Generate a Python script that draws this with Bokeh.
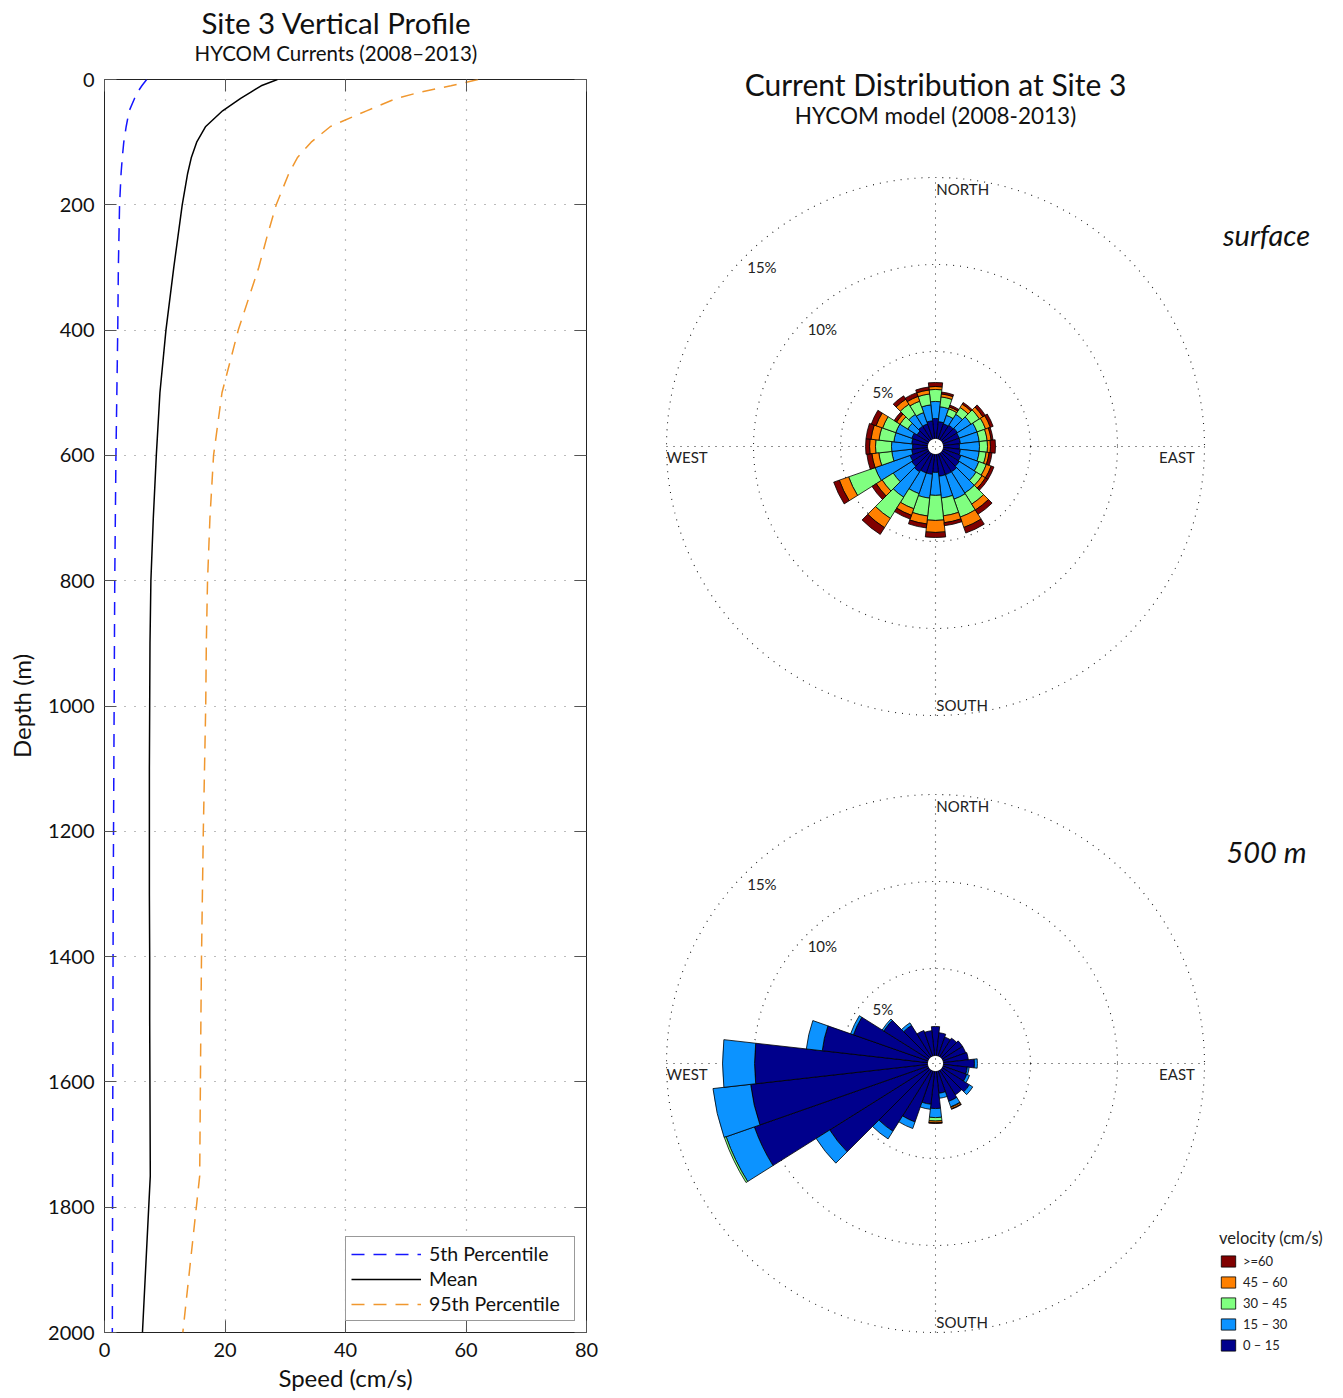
import numpy as np
from bokeh.plotting import figure
from bokeh.models import (Range1d, FixedTicker, LinearAxis, Legend, LegendItem,
                          Label, Title, ColumnDataSource)
from bokeh.layouts import row, column
from bokeh.embed import file_html
from bokeh.resources import INLINE

FONT = "Lato"

# ---------------- vertical profile data (HYCOM levels) ----------------
depth_m = [0, 10, 20, 30, 50, 75, 100, 125, 150, 200, 250, 300, 400, 500,
           600, 700, 800, 900, 1000, 1100, 1200, 1300, 1400, 1500, 1750, 2000]
speed_p05 = [7.0, 6.2, 5.5, 5.0, 4.1, 3.6, 3.2, 2.95, 2.75, 2.5, 2.4, 2.3, 2.2, 2.05,
             1.9, 1.8, 1.7, 1.65, 1.6, 1.55, 1.5, 1.45, 1.42, 1.4, 1.35, 1.3]
speed_mean = [28.7, 26.0, 24.3, 22.6, 19.6, 16.8, 15.3, 14.4, 13.8, 12.9, 12.2, 11.5, 10.2, 9.2,
              8.6, 8.1, 7.7, 7.55, 7.5, 7.45, 7.45, 7.45, 7.5, 7.5, 7.6, 6.3]
speed_p95 = [62.0, 57.5, 52.5, 48.5, 43.5, 37.5, 34.3, 32.0, 30.6, 28.5, 27.0, 25.6, 22.2, 19.5,
             18.1, 17.5, 17.1, 16.9, 16.8, 16.6, 16.4, 16.25, 16.1, 16.0, 15.8, 13.0]
speed_ticks = [0, 20, 40, 60, 80]
depth_ticks = list(range(0, 2001, 200))

# ---------------- current rose data (% of time per direction and speed class) ----------------
n_dir = 28
speed_classes = ["0 – 15", "15 – 30", "30 – 45", "45 – 60", ">=60"]
class_colors = ["#00008C", "#0C93FF", "#80FF80", "#FF8000", "#800000"]
ring_pcts = [5, 10, 15]

surf_0_15 = [1.15, 0.98, 0.92, 0.98, 1.03, 0.98, 0.98, 0.92, 0.98, 1.09, 1.15, 1.26, 1.26, 1.26,
             1.03, 1.15, 1.15, 1.26, 1.15, 1.09, 0.92, 0.86, 0.92, 0.98, 0.80, 0.92, 0.92, 1.03]
surf_15_30 = [0.98, 0.86, 0.52, 0.75, 0.92, 1.09, 1.09, 1.15, 1.09, 1.09, 1.15, 1.44, 1.49, 1.26,
              1.32, 1.38, 1.26, 1.72, 1.26, 2.13, 1.15, 1.21, 1.03, 0.98, 0.63, 0.80, 0.69, 0.92]
surf_30_45 = [0.69, 0.57, 0.40, 0.46, 0.57, 0.52, 0.46, 0.46, 0.40, 0.46, 0.40, 0.75, 1.09, 1.03,
              1.44, 1.03, 0.92, 1.44, 0.75, 1.61, 0.75, 0.92, 0.86, 0.80, 0.52, 0.69, 0.69, 0.63]
surf_45_60 = [0.17, 0.17, 0.11, 0.23, 0.23, 0.29, 0.23, 0.17, 0.17, 0.29, 0.23, 0.40, 0.63, 0.40,
              0.69, 0.46, 0.40, 0.63, 0.40, 0.57, 0.40, 0.34, 0.46, 0.40, 0.23, 0.34, 0.29, 0.23]
surf_60 = [0.23, 0.11, 0.11, 0.11, 0.17, 0.17, 0.11, 0.29, 0.17, 0.17, 0.17, 0.29, 0.34, 0.17,
           0.29, 0.23, 0.23, 0.46, 0.29, 0.34, 0.29, 0.23, 0.29, 0.29, 0.17, 0.23, 0.23, 0.17]

deep_0_15 = [1.67, 1.32, 1.15, 1.26, 1.38, 1.38, 1.44, 1.78, 1.38, 1.44, 1.84, 1.67, 1.84, 1.26,
             2.13, 1.90, 3.10, 4.14, 6.72, 10.57, 10.23, 9.94, 6.09, 4.54, 3.05, 2.13, 1.55, 1.44]
deep_15_30 = [0, 0, 0, 0, 0, 0, 0, 0.17, 0.11, 0.17, 0.23, 0, 0.34, 0.29,
              0.52, 0.29, 0.40, 0.52, 0.92, 1.72, 2.18, 1.84, 0.92, 0.17, 0.11, 0.17, 0, 0]
deep_30_45 = [0, 0, 0, 0, 0, 0, 0, 0, 0, 0, 0, 0, 0.03, 0,
              0.20, 0, 0, 0, 0, 0.11, 0, 0, 0, 0, 0, 0, 0, 0]
deep_45_60 = [0, 0, 0, 0, 0, 0, 0, 0, 0, 0, 0, 0, 0.09, 0,
              0.10, 0, 0, 0, 0, 0, 0, 0, 0, 0, 0, 0, 0, 0]
deep_60 = [0, 0, 0, 0, 0, 0, 0, 0, 0, 0, 0, 0, 0.03, 0,
           0.04, 0, 0, 0, 0, 0, 0, 0, 0, 0, 0, 0, 0, 0]

surface_rose = [surf_0_15, surf_15_30, surf_30_45, surf_45_60, surf_60]
deep_rose = [deep_0_15, deep_15_30, deep_30_45, deep_45_60, deep_60]

TOP, BOTTOM = 79, 66

# =====================================================================
# Left: vertical profile
# =====================================================================
LW, LH = 600, 1398
p = figure(width=LW, height=LH, output_backend="svg", toolbar_location=None,
           x_range=Range1d(0, 80), y_range=Range1d(2000, 0),
           min_border_left=104, min_border_right=14, min_border_top=TOP, min_border_bottom=BOTTOM,
           background_fill_color="white", border_fill_color="white")
bottom_ax = p.xaxis[0]
left_ax = p.yaxis[0]

# mirrored inward ticks on top and right (labels invisible)
top_ax = LinearAxis(ticker=FixedTicker(ticks=speed_ticks), major_tick_in=12, major_tick_out=0,
                    major_label_text_font_size="1px", major_label_text_color=None,
                    major_label_standoff=0, minor_tick_line_color=None, axis_line_color=None,
                    major_tick_line_color="#555")
right_ax = LinearAxis(ticker=FixedTicker(ticks=depth_ticks), major_tick_in=12, major_tick_out=0,
                      major_label_text_font_size="1px", major_label_text_color=None,
                      major_label_standoff=0, minor_tick_line_color=None, axis_line_color=None,
                      major_tick_line_color="#555")
p.add_layout(top_ax, "above")
p.add_layout(right_ax, "right")

p.add_layout(Title(text="HYCOM Currents (2008–2013)", align="left", text_font=FONT,
                   text_font_size="20.5px", text_font_style="normal", text_color="#111",
                   standoff=29, offset=90), "above")
p.add_layout(Title(text="Site 3 Vertical Profile", align="left", text_font=FONT,
                   text_font_size="29.5px", text_font_style="normal", text_color="#111",
                   standoff=-31, offset=97), "above")

p.outline_line_color = "#222"
p.outline_line_width = 1

for ax in (bottom_ax, left_ax):
    ax.major_tick_in = 12
    ax.major_tick_out = 0
    ax.minor_tick_line_color = None
    ax.major_tick_line_color = "#555"
    ax.axis_line_color = None
    ax.major_label_text_font = FONT
    ax.major_label_text_font_size = "20px"
    ax.major_label_text_color = "#111"
    ax.axis_label_text_font = FONT
    ax.axis_label_text_font_size = "24px"
    ax.axis_label_text_font_style = "normal"
    ax.axis_label_text_color = "#111"
    ax.major_label_standoff = 10

bottom_ax.ticker = FixedTicker(ticks=speed_ticks)
left_ax.ticker = FixedTicker(ticks=depth_ticks)
bottom_ax.axis_label = "Speed (cm/s)"
left_ax.axis_label = "Depth (m)"
bottom_ax.axis_label_standoff = 3
left_ax.axis_label_standoff = 9

p.xgrid.ticker = FixedTicker(ticks=speed_ticks)
p.ygrid.ticker = FixedTicker(ticks=depth_ticks)
p.grid.grid_line_color = "#777"
p.grid.grid_line_dash = "1 9"
p.grid.grid_line_width = 1.2

p.line(speed_p05, depth_m, line_color="#1515FF", line_width=1.5, line_dash="13 9",
       legend_label="5th Percentile")
p.line(speed_mean, depth_m, line_color="black", line_width=1.5, legend_label="Mean")
p.line(speed_p95, depth_m, line_color="#F0972E", line_width=1.5, line_dash="13 9",
       legend_label="95th Percentile")

lg = p.legend[0]
lg.location = "bottom_right"
lg.margin = 11
lg.padding = 5
lg.spacing = 2
lg.glyph_width = 70
lg.glyph_height = 20
lg.label_height = 20
lg.label_width = 140
lg.label_standoff = 8
lg.label_text_font = FONT
lg.label_text_font_size = "19.5px"
lg.label_text_color = "#111"
lg.border_line_color = "#333"
lg.border_line_width = 1
lg.background_fill_alpha = 1

# =====================================================================
# Right: current roses (1 data unit = 1 % of time)
# =====================================================================
RW, RH = 743, 1398
PX = 17.4                     # pixels per percent
cx_px, cy1_px, cy2_px = 335, 446, 1063
hole = 8.0 / PX
q = figure(width=RW, height=RH, output_backend="svg", toolbar_location=None,
           x_range=Range1d(-cx_px / PX, (RW - cx_px) / PX),
           y_range=Range1d(-(RH - cy1_px) / PX, cy1_px / PX),
           x_axis_location=None, y_axis_location=None, min_border=0,
           background_fill_color="white", border_fill_color="white")
q.grid.visible = False
q.outline_line_color = None

rose_y = [0.0, -(cy2_px - cy1_px) / PX]
rose_sets = [surface_rose, deep_rose]
rose_names = ["surface", "500 m"]

ring_r = [hole + v for v in ring_pcts]
for cy in rose_y:
    q.circle(x=[0] * len(ring_r), y=[cy] * len(ring_r), radius=ring_r,
             fill_color=None, line_color="#222", line_dash="1 6", line_width=1.1)
    R = ring_r[-1]
    q.segment(x0=[0, -R], y0=[cy - R, cy], x1=[0, R], y1=[cy + R, cy],
              line_color="#222", line_dash="1 6", line_width=1.1)

half = np.deg2rad(180.0 / n_dir)
bearing = np.arange(n_dir) * 360.0 / n_dir
theta = np.deg2rad(90.0 - bearing)
renderers = []
for ci, col in enumerate(class_colors):
    d = dict(x=[], y=[], rin=[], rout=[], sa=[], ea=[])
    for cy, rose in zip(rose_y, rose_sets):
        arr = np.array(rose, dtype=float)
        cum = np.cumsum(arr, axis=0)
        for k in range(n_dir):
            if arr[ci, k] <= 0:
                continue
            d["x"].append(0.0)
            d["y"].append(cy)
            d["rin"].append(hole + (cum[ci - 1, k] if ci > 0 else 0.0))
            d["rout"].append(hole + cum[ci, k])
            d["sa"].append(theta[k] - half)
            d["ea"].append(theta[k] + half)
    r = q.annular_wedge(x="x", y="y", inner_radius="rin", outer_radius="rout",
                        start_angle="sa", end_angle="ea", source=ColumnDataSource(d),
                        fill_color=col, line_color="black", line_width=0.8)
    renderers.append(r)

lab_ang = np.deg2rad(134.0)
for cy, name in zip(rose_y, rose_names):
    for v, rr in zip(ring_pcts, ring_r):
        rl = rr - 1.1
        q.add_layout(Label(x=rl * np.cos(lab_ang), y=cy + rl * np.sin(lab_ang), text=f"{v}%",
                           text_align="center", text_baseline="middle", text_font=FONT,
                           text_font_size="15px", text_color="#222"))
    R = ring_r[-1]
    q.add_layout(Label(x=0.05, y=cy + R - 0.68, text="NORTH", text_align="left",
                       text_baseline="middle", text_font=FONT, text_font_size="15px",
                       text_color="#222"))
    q.add_layout(Label(x=0.05, y=cy - R + 0.62, text="SOUTH", text_align="left",
                       text_baseline="middle", text_font=FONT, text_font_size="15px",
                       text_color="#222"))
    q.add_layout(Label(x=R - 0.55, y=cy - 0.63, text="EAST", text_align="right",
                       text_baseline="middle", text_font=FONT, text_font_size="15px",
                       text_color="#222"))
    q.add_layout(Label(x=-R, y=cy - 0.63, text="WEST", text_align="left",
                       text_baseline="middle", text_font=FONT, text_font_size="15px",
                       text_color="#222"))
    q.add_layout(Label(x=331 / PX, y=cy + 212 / PX, text=name, text_align="center",
                       text_baseline="middle", text_font=FONT, text_font_size="29px",
                       text_font_style="italic", text_color="#111"))

q.add_layout(Label(x=0, y=363 / PX, text="Current Distribution at Site 3", text_align="center",
                   text_baseline="middle", text_font=FONT, text_font_size="30px",
                   text_color="#111"))
q.add_layout(Label(x=0, y=331 / PX, text="HYCOM model (2008-2013)", text_align="center",
                   text_baseline="middle", text_font=FONT, text_font_size="22.5px",
                   text_color="#111"))

items = [LegendItem(label=lab, renderers=[rend])
         for lab, rend in zip(speed_classes[::-1], renderers[::-1])]
vleg = Legend(items=items, title="velocity (cm/s)", location=(619, 45),
              glyph_width=18, glyph_height=14, label_height=14, spacing=5,
              label_standoff=6, padding=0, margin=0,
              label_text_font=FONT, label_text_font_size="13px", label_text_color="#222",
              title_text_font=FONT, title_text_font_size="16.5px", title_text_font_style="normal",
              title_text_color="#222", title_standoff=5,
              border_line_color=None, background_fill_alpha=0)
q.add_layout(vleg)

layout = row(p, column(q))
open("out.html", "w").write(file_html(layout, INLINE))
